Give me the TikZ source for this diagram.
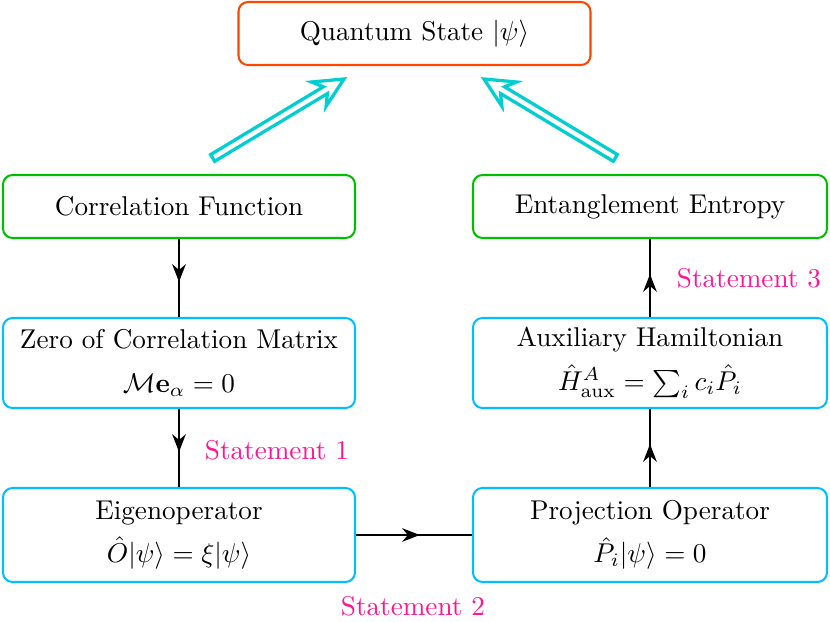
\documentclass[tikz,border=0pt]{standalone}
\usepackage{amsmath,amssymb}
\usetikzlibrary{arrows.meta,decorations.markings}
\definecolor{qred}{RGB}{255,69,0}
\definecolor{qgreen}{RGB}{0,190,0}
\definecolor{qcyan}{RGB}{0,190,255}
\definecolor{qturq}{RGB}{0,206,209}
\definecolor{qpink}{RGB}{255,20,147}
\begin{document}
\begin{tikzpicture}[x=0.368pt,y=-0.368pt,
  box/.style={draw,rounded corners=3.5pt,line width=0.75pt,minimum width=352*0.368pt,inner sep=0pt,align=center,font=\normalsize},
  midarrow/.style={line width=0.75pt,postaction={decorate},decoration={markings,mark=at position 0.55 with {\arrow{Stealth[length=6.5pt,width=5pt]}}}},
  stmt/.style={text=qpink,font=\normalsize},
  bigarr/.pic={
    \draw[draw=qturq,fill=white,line width=1.2pt,line join=miter]
      (-56.4pt,1.45pt) -- (-8pt,1.45pt) -- (-10.8pt,5.2pt) -- (0pt,0pt)
      -- (-10.8pt,-5.2pt) -- (-8pt,-1.45pt) -- (-56.4pt,-1.45pt) -- cycle;
  }
]
\useasboundingbox (0,0) rectangle (830,622);
\node[box,draw=qred,minimum height=63*0.368pt] (qs) at (414.5,33.5) {Quantum State $|\psi\rangle$};
\node[box,draw=qgreen,minimum height=63*0.368pt] (cf) at (179,206.5) {Correlation Function};
\node[box,draw=qgreen,minimum height=63*0.368pt,minimum width=354*0.368pt] (ee) at (650,206.5) {Entanglement Entropy};
\node[box,draw=qcyan,minimum height=90*0.368pt] (zc) at (179,363) {Zero of Correlation Matrix\\[4pt] $\mathcal{M}\mathbf{e}_\alpha=0$};
\node[box,draw=qcyan,minimum height=90*0.368pt,minimum width=354*0.368pt] (ah) at (650,363) {Auxiliary Hamiltonian\\[4pt] $\hat{H}^A_{\mathrm{aux}}=\sum_i c_i\hat{P}_i$};
\node[box,draw=qcyan,minimum height=94*0.368pt] (eo) at (179,535) {Eigenoperator\\[4pt] $\hat{O}|\psi\rangle=\xi|\psi\rangle$};
\node[box,draw=qcyan,minimum height=94*0.368pt,minimum width=354*0.368pt] (po) at (650,535) {Projection Operator\\[4pt] $\hat{P}_i|\psi\rangle=0$};
\draw[midarrow] (cf) -- (zc);
\draw[midarrow] (zc) -- (eo);
\draw[midarrow] (eo) -- (po);
\draw[midarrow] (po) -- (ah);
\draw[midarrow] (ah) -- (ee);
\node[stmt] (s1) at (277,450) {Statement 1};
\node[stmt] (s2) at (413,606) {Statement 2};
\node[stmt] (s3) at (749,278) {Statement 3};
\coordinate (a1e) at (344,79);
\coordinate (a2e) at (484,79);
\pic[rotate=31] at (a1e) {bigarr};
\pic[rotate=149] at (a2e) {bigarr};
\end{tikzpicture}
\end{document}
